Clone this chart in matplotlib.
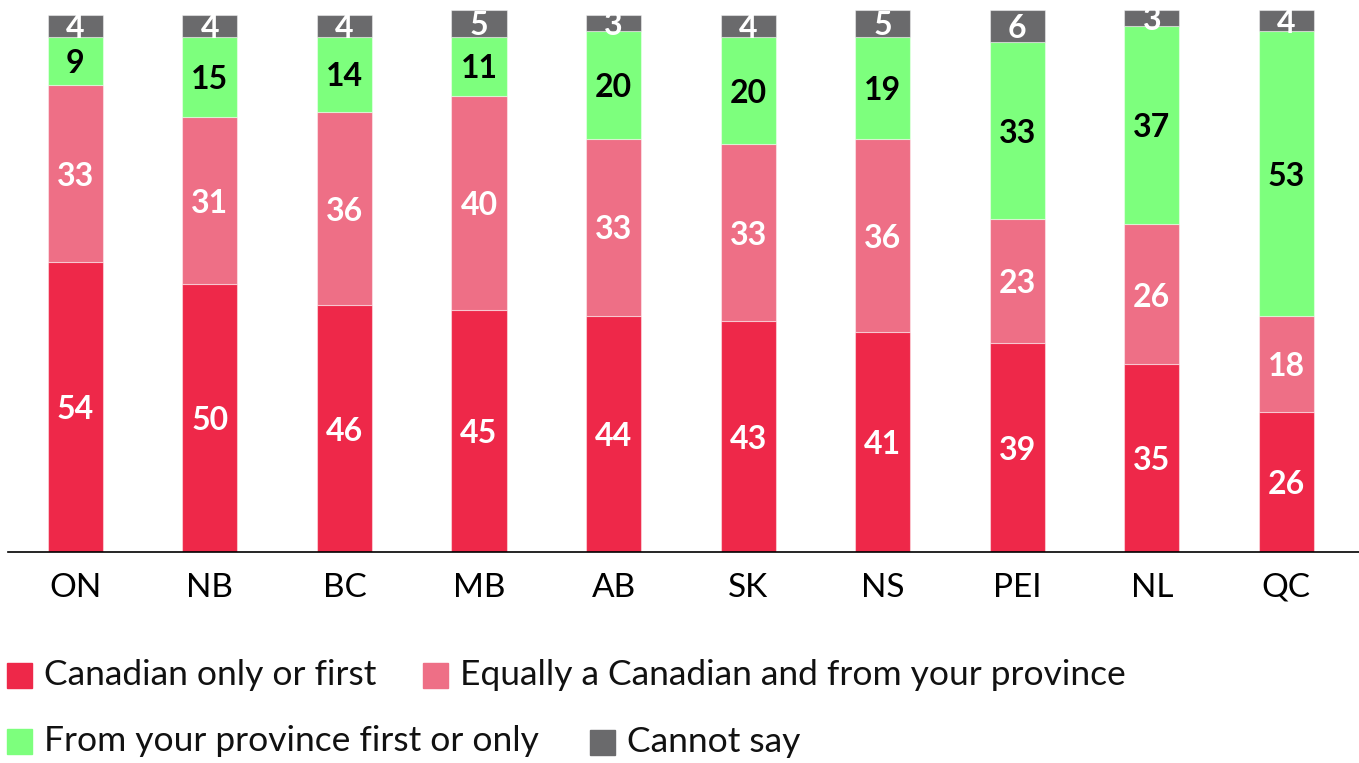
import matplotlib.pyplot as plt
from matplotlib.patches import Rectangle

# data
provinces = ["ON", "NB", "BC", "MB", "AB", "SK", "NS", "PEI", "NL", "QC"]
canadian_first = [54, 50, 46, 45, 44, 43, 41, 39, 35, 26]
equally = [33, 31, 36, 40, 33, 33, 36, 23, 26, 18]
province_first = [9, 15, 14, 11, 20, 20, 19, 33, 37, 53]
cannot_say = [4, 4, 4, 5, 3, 4, 5, 6, 3, 4]

series_names = ["Canadian only or first", "Equally a Canadian and from your province",
                "From your province first or only", "Cannot say"]
colors = ["#EE2849", "#EE6F86", "#7DFF7D", "#6A6A6C"]
label_colors = ["white", "white", "black", "white"]

plt.rcParams['font.family'] = ['Lato', 'DejaVu Sans']

W, H = 1359, 763
fig = plt.figure(figsize=(W / 100, H / 100), dpi=100)
ax = fig.add_axes([8 / W, (H - 552) / H, 1 - 8 / W, 553 / H])

x = range(len(provinces))
bottom = [0] * len(provinces)
for vals, col, lcol in zip([canadian_first, equally, province_first, cannot_say],
                           colors, label_colors):
    bars = ax.bar(x, vals, width=0.41, bottom=bottom, color=col,
                  edgecolor=(1, 1, 1, 0.45), linewidth=0.8)
    ax.bar_label(bars, labels=[str(v) for v in vals], label_type='center',
                 color=lcol, fontsize=23, fontweight='bold', padding=-2)
    bottom = [b + v for b, v in zip(bottom, vals)]

ax.set_xlim(-0.5, 9.54)
ax.set_ylim(0, 103)
ax.set_xticks(list(x))
ax.set_xticklabels(provinces, fontsize=24)
ax.tick_params(axis='x', length=0, pad=15)
ax.set_yticks([])
for s in ['top', 'right', 'left']:
    ax.spines[s].set_visible(False)
ax.spines['bottom'].set_linewidth(1.2)

# hand-placed legend (flow layout, two rows)
legend_pos = [(7, 663), (423, 663), (7, 729), (590, 730)]
for (px, py), name, col in zip(legend_pos, series_names, colors):
    fig.patches.append(Rectangle((px / W, 1 - (py + 25) / H), 25 / W, 25 / H,
                                 transform=fig.transFigure, color=col))
    fig.text((px + 37) / W, 1 - (py + 12) / H, name, fontsize=25.5,
             va='center', ha='left', color='#111111')

fig.savefig("out.png", dpi=100)
